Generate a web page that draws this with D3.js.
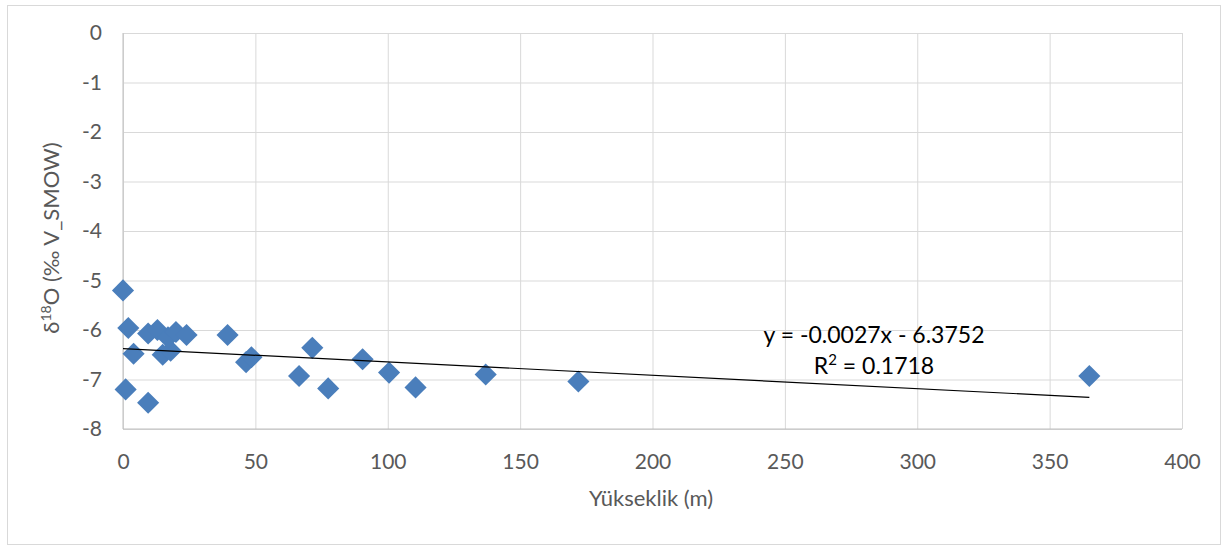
<!DOCTYPE html>
<html>
<head>
<meta charset="utf-8">
<script src="https://cdn.jsdelivr.net/npm/d3@7"></script>
<style>
  body { margin: 0; background: #fff; }
  svg text { font-family: Lato, "Open Sans", sans-serif; }
</style>
</head>
<body>
<svg id="chart" width="1229" height="549"></svg>
<script>
// Elevation (m) and δ18O (‰ V-SMOW) of the samples
const elevation = [0, 2, 4, 1, 9.5, 9.5, 13, 15, 18, 17, 20, 24, 39.5, 46.5, 48.5, 66.5, 71.5, 77.5, 90.5, 100.5, 110.5, 137, 172, 365];
const delta18O  = [-5.2, -5.96, -6.48, -7.2, -7.47, -6.07, -6.0, -6.5, -6.42, -6.15, -6.04, -6.1, -6.1, -6.65, -6.55, -6.93, -6.36, -7.18, -6.59, -6.86, -7.16, -6.9, -7.04, -6.93];

// Linear trend line coefficients
const slope = -0.0027;
const intercept = -6.3752;
const rSquared = 0.1718;

const xTicks = [0, 50, 100, 150, 200, 250, 300, 350, 400];
const yTicks = [0, -1, -2, -3, -4, -5, -6, -7, -8];

const svg = d3.select("#chart");
const plot = { left: 123, right: 1182, top: 33, bottom: 429 };
const font = "Lato, 'Open Sans', sans-serif";

// Outer chart frame
svg.append("rect")
  .attr("x", 7.5).attr("y", 5.5).attr("width", 1213).attr("height", 539)
  .attr("fill", "#fff").attr("stroke", "#d9d9d9").attr("stroke-width", 1);

const x = d3.scaleLinear().domain([0, 400]).range([plot.left, plot.right]);
const y = d3.scaleLinear().domain([-8, 0]).range([plot.bottom, plot.top]);

// Gridlines
svg.append("g")
  .attr("transform", `translate(0,${plot.bottom})`)
  .call(d3.axisBottom(x).tickValues(xTicks).tickSize(-(plot.bottom - plot.top)).tickFormat(""))
  .call(g => g.select(".domain").remove())
  .call(g => g.selectAll("line").attr("stroke", "#d9d9d9").attr("stroke-width", 1));

svg.append("g")
  .attr("transform", `translate(${plot.left},0)`)
  .call(d3.axisLeft(y).tickValues(yTicks).tickSize(-(plot.right - plot.left)).tickFormat(""))
  .call(g => g.select(".domain").remove())
  .call(g => g.selectAll("line").attr("stroke", "#d9d9d9").attr("stroke-width", 1));

// Axis lines
svg.append("line")
  .attr("x1", plot.left).attr("x2", plot.right)
  .attr("y1", plot.bottom).attr("y2", plot.bottom)
  .attr("stroke", "#bfbfbf");
svg.append("line")
  .attr("x1", plot.left).attr("x2", plot.left)
  .attr("y1", plot.top).attr("y2", plot.bottom)
  .attr("stroke", "#bfbfbf");

// Tick labels
svg.append("g")
  .attr("transform", `translate(0,${plot.bottom})`)
  .call(d3.axisBottom(x).tickValues(xTicks).tickSize(0).tickPadding(25))
  .call(g => g.select(".domain").remove())
  .call(g => g.selectAll("text")
    .attr("fill", "#595959").attr("font-size", 21).attr("font-family", font));

svg.append("g")
  .attr("transform", `translate(${plot.left},0)`)
  .call(d3.axisLeft(y).tickValues(yTicks).tickSize(0).tickPadding(21).tickFormat(d3.format("d")))
  .call(g => g.select(".domain").remove())
  .call(g => g.selectAll("text")
    .attr("fill", "#595959").attr("font-size", 21).attr("font-family", font)
    .text(d => d === 0 ? "0" : "-" + Math.abs(d)));

// Data points as diamonds
const diamond = d3.symbol().type(d3.symbolSquare).size(245);
svg.append("g").selectAll("path")
  .data(elevation.map((e, i) => [e, delta18O[i]]))
  .join("path")
  .attr("d", diamond)
  .attr("transform", d => `translate(${x(d[0])},${y(d[1])}) rotate(45)`)
  .attr("fill", "#4a7ebb");

// Trend line across the data range
const xMin = d3.min(elevation), xMax = d3.max(elevation);
svg.append("line")
  .attr("x1", x(xMin)).attr("y1", y(slope * xMin + intercept))
  .attr("x2", x(xMax)).attr("y2", y(slope * xMax + intercept))
  .attr("stroke", "#000").attr("stroke-width", 1.2);

// Trend equation
svg.append("text")
  .attr("x", 874).attr("y", 343)
  .attr("text-anchor", "middle").attr("font-size", 23).attr("fill", "#000")
  .text(`y = ${slope}x - ${Math.abs(intercept)}`);
const r2 = svg.append("text")
  .attr("x", 874).attr("y", 374)
  .attr("text-anchor", "middle").attr("font-size", 23).attr("fill", "#000");
r2.append("tspan").text("R");
r2.append("tspan").attr("font-size", 15).attr("dy", -9).text("2");
r2.append("tspan").attr("dy", 9).text(` = ${rSquared}`);

// Axis titles
svg.append("text")
  .attr("x", 651).attr("y", 506)
  .attr("text-anchor", "middle").attr("font-size", 22).attr("fill", "#595959")
  .text("Yükseklik (m)");

const yt = svg.append("text")
  .attr("transform", `translate(59,238) rotate(-90)`)
  .attr("text-anchor", "middle").attr("font-size", 22).attr("fill", "#595959");
yt.append("tspan").text("δ");
yt.append("tspan").attr("font-size", 14).attr("dy", -8).text("18");
yt.append("tspan").attr("dy", 8).text("O (‰ V_SMOW)");
</script>
</body>
</html>
